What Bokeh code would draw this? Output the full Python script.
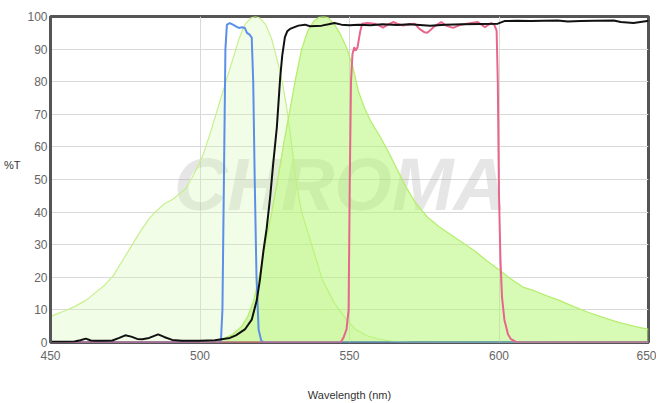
from bokeh.plotting import figure
from bokeh.models import Label, FixedTicker
from bokeh.embed import file_html
from bokeh.resources import INLINE

# ---- data (wavelength nm, %T) ----
ex_wl = [450, 455, 458, 462, 465, 468, 471, 474, 477, 480, 483, 485, 488, 491, 493, 495, 497, 499, 501, 503,
         505, 507, 509, 511, 513, 515, 517, 518.5, 520, 522, 524, 526, 527.5, 529, 530.5, 532, 534, 537, 541,
         545, 549, 552, 556, 560, 565, 570, 650]
ex_t = [8, 9.8, 11, 13, 15.3, 17.5, 20.5, 25, 29.5, 34, 38, 40, 42.5, 44, 45.5, 47, 50, 53.5, 57.5, 63,
        69, 75, 81, 87, 93, 97.5, 99.5, 100, 99.5, 97.5, 93, 86, 80, 72, 62, 50, 40, 31, 19,
        12, 7, 4, 2, 1, 0.3, 0.1, 0]

em_wl = [500, 505, 508, 511, 514, 516, 518, 520, 522, 524, 526, 528, 530, 532, 534, 536, 538, 540, 541.5,
         543, 545, 547, 549, 551, 553, 555, 557, 560, 563, 566, 569, 572, 576, 580, 584, 588, 592, 596,
         600, 604, 608, 612, 616, 620, 625, 630, 635, 640, 645, 650]
em_t = [0, 0.5, 1.2, 2.5, 5, 8, 13, 21, 31, 40, 50, 61, 71, 81, 90, 95.5, 98.5, 99.8, 100,
        99.5, 97.5, 94.5, 90.5, 85, 77, 72, 68, 63.5, 58.5, 53, 47.5, 43, 38.5, 35.5, 33, 30.5, 28, 25,
        22.3, 19.5, 17, 15.8, 14.3, 13, 11, 9.2, 7.6, 6.2, 5, 4]

ex_filter_wl = [450, 506, 507, 507.5, 508, 508.5, 509, 510, 511, 512, 513, 514, 515, 515.7, 516.5, 517.3,
                517.8, 518.3, 518.9, 519.6, 520.5, 521.5, 650]
ex_filter_t = [0, 0, 0.5, 10, 50, 90, 97.5, 98, 97.5, 97, 96.5, 96.7, 96.5, 95, 94.5, 93.5,
               80, 50, 20, 4, 0.5, 0, 0]

em_filter_wl = [450, 547, 548, 549, 549.7, 550.1, 550.5, 551, 551.6, 552, 552.7, 553.5, 554.2, 556, 558.4,
                560, 561.2, 563, 564.6, 566, 567.9, 570, 571.8, 573.4, 575, 576, 577, 578.4, 580.7, 582.3,
                584.6, 587.3, 590.7, 592.9, 595.3, 597.3, 598.4, 599.2, 599.6, 600, 600.5, 601, 601.8, 603,
                604, 606, 650]
em_filter_t = [0, 0, 1.5, 4, 10, 50, 80, 88.5, 90.6, 89.5, 90.6, 95, 97.8, 98, 97.8,
               97.2, 96.6, 97.6, 98.3, 97.8, 97.2, 97.6, 97.8, 96.2, 95.2, 95, 95.8, 97, 98.3, 97.2,
               96.5, 97.5, 98, 98.3, 96.7, 98, 97.5, 95.7, 80, 45, 25, 14, 7, 2.5,
               1, 0, 0]

dichroic_wl = [450, 455, 458, 460, 461.8, 463.5, 465, 468, 470.7, 473, 475, 477, 479, 480.7, 483, 486, 488,
               490.7, 494, 500, 505, 510, 512, 515, 517.3, 519, 520, 521.2, 522.3, 523.5, 524.5, 525.7,
               526.8, 527.5, 528.4, 529.2, 530.1, 532.9, 535.1, 536.8, 540.7, 543, 545, 547.3, 550, 553,
               557, 561, 566, 570, 577, 582, 588, 594, 599.6, 601.8, 606, 610.7, 615, 619.6, 623, 627.3,
               632, 638.4, 640.7, 645, 649.6, 650]
dichroic_t = [0.2, 0.2, 0.3, 0.7, 1.2, 0.6, 0.5, 0.5, 0.6, 1.4, 2.2, 1.8, 1.1, 1.0, 1.4, 2.5, 1.7,
              0.8, 0.5, 0.5, 0.7, 1.4, 2.2, 4, 7, 13, 19, 28, 35, 45, 55, 66,
              81, 88, 93.7, 95.5, 96.2, 97.2, 97.5, 97, 97.2, 97.6, 98, 97.5, 97.3, 97.5,
              97.3, 97.6, 97.4, 97.6, 97.2, 97.5, 97.6, 97.7, 97.8, 98.6, 98.7, 98.6, 98.7, 98.8, 98.5, 98.6,
              98.7, 98.8, 98.3, 98, 98.6, 98.6]

x_ticks = [450, 500, 550, 600, 650]
y_ticks = [0, 10, 20, 30, 40, 50, 60, 70, 80, 90, 100]

FONT = "Liberation Sans"

p = figure(width=656, height=403, x_range=(450, 650), y_range=(0, 100),
           output_backend="svg", toolbar_location=None,
           min_border_left=48, min_border_right=8, min_border_top=16, min_border_bottom=60)

p.background_fill_color = "white"
p.border_fill_color = "white"
p.outline_line_color = "#555555"
p.outline_line_width = 3

for ax in (p.xaxis[0], p.yaxis[0]):
    ax.major_tick_line_color = None
    ax.minor_tick_line_color = None
    ax.major_label_text_font = FONT
    ax.major_label_text_font_size = "12px"
    ax.major_label_text_color = "#666666"
    ax.axis_label_text_font = FONT
    ax.axis_label_text_font_size = "11px"
    ax.axis_label_text_font_style = "normal"
    ax.axis_label_text_color = "#333333"
p.xaxis[0].ticker = FixedTicker(ticks=x_ticks)
p.yaxis[0].ticker = FixedTicker(ticks=y_ticks)
p.xaxis[0].axis_line_color = None
p.yaxis[0].axis_line_color = "#555555"
p.yaxis[0].axis_line_width = 3
p.xaxis[0].major_label_standoff = 2
p.yaxis[0].major_label_standoff = -3

p.xaxis[0].axis_label = "Wavelength (nm)"
p.xaxis[0].axis_label_standoff = 26
p.yaxis[0].axis_label = "%T\n\n"
p.yaxis[0].axis_label_standoff = 4
try:
    p.yaxis[0].axis_label_orientation = "horizontal"
except Exception:
    p.yaxis[0].axis_label = "%T"

p.xgrid.grid_line_color = "#d9d9d9"
p.ygrid.grid_line_color = "#d9d9d9"
p.xgrid.ticker = FixedTicker(ticks=x_ticks)
p.ygrid.ticker = FixedTicker(ticks=y_ticks)

# watermark
wm = Label(x=290, y=158, x_units="screen", y_units="screen", text="CHROMA",
           text_font=FONT, text_font_style="bold italic", text_font_size="74px",
           text_color="#9a9a9a", text_alpha=0.25, text_align="center", text_baseline="middle",
           level="underlay")
p.add_layout(wm)

# spectra
p.varea(x=ex_wl, y1=0, y2=ex_t, fill_color="#d4f8b2", fill_alpha=0.3)
p.line(ex_wl, ex_t, line_color="#c6f08c", line_width=1.2)
p.varea(x=em_wl, y1=0, y2=em_t, fill_color="#b0f66a", fill_alpha=0.5)
p.line(em_wl, em_t, line_color="#b6ee6e", line_width=1.3)

p.line(ex_filter_wl, ex_filter_t, line_color="#5b8fe8", line_width=2)
p.line(em_filter_wl, em_filter_t, line_color="#e8668c", line_width=2)
p.line(dichroic_wl, dichroic_t, line_color="#111111", line_width=2)

open("out.html", "w").write(file_html(p, INLINE))
